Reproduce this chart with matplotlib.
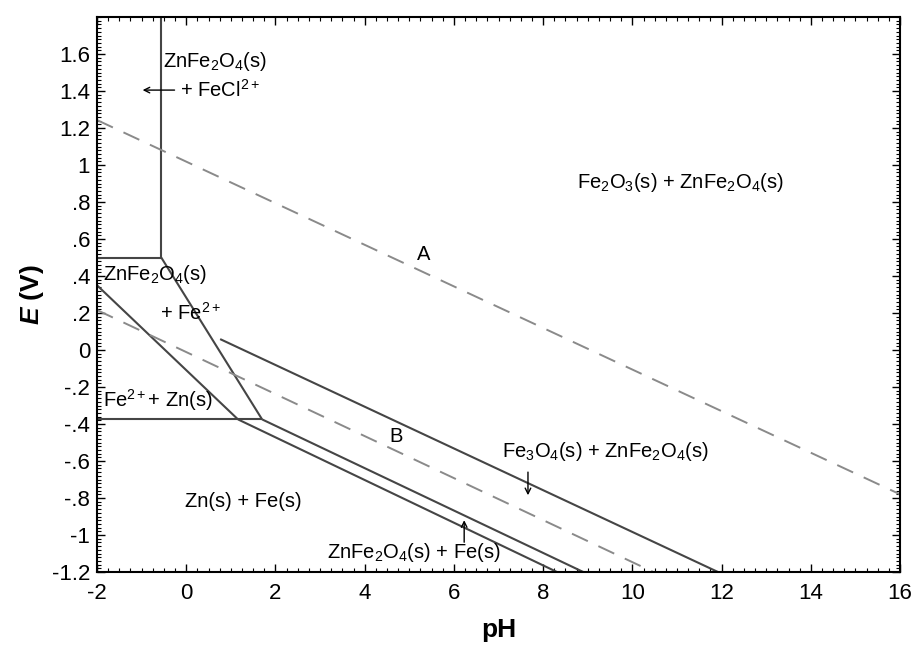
import matplotlib
matplotlib.use("Agg")
import matplotlib.pyplot as plt
from matplotlib.ticker import MultipleLocator, FuncFormatter

plt.rcParams['font.family'] = ['Liberation Sans', 'DejaVu Sans']
plt.rcParams['mathtext.fontset'] = 'custom'
plt.rcParams['mathtext.rm'] = 'Liberation Sans'
plt.rcParams['mathtext.it'] = 'Liberation Sans:italic'
plt.rcParams['mathtext.bf'] = 'Liberation Sans:italic:bold'
plt.rcParams['axes.unicode_minus'] = False

# Solid phase boundaries (pH, E)
vert_pH = [-0.56, -0.56]
vert_E = [1.8, 0.5]
top_horiz_pH = [-2.0, -0.56]
top_horiz_E = [0.5, 0.5]
diag_pH = [-0.56, 1.70]
diag_E = [0.5, -0.375]
low_horiz_pH = [-2.0, 1.70]
low_horiz_E = [-0.375, -0.375]
left_diag_pH = [-2.0, 1.16]
left_diag_E = [0.35, -0.375]
lower_pH = [1.16, 8.31]
lower_E = [-0.375, -1.2]
upper_pH = [1.70, 8.90]
upper_E = [-0.375, -1.2]
magnetite_pH = [0.76, 11.92]
magnetite_E = [0.059, -1.2]

# Water stability dashed lines
lineA_pH = [-2.0, 16.0]
lineA_E = [1.243, -0.78]
lineB_pH = [-2.0, 10.47]
lineB_E = [0.216, -1.2]

solid_lines = [
    (vert_pH, vert_E), (top_horiz_pH, top_horiz_E), (diag_pH, diag_E),
    (low_horiz_pH, low_horiz_E), (left_diag_pH, left_diag_E),
    (lower_pH, lower_E), (upper_pH, upper_E), (magnetite_pH, magnetite_E),
]
dashed_lines = [(lineA_pH, lineA_E), (lineB_pH, lineB_E)]

x_ticks = list(range(-2, 17, 2))
y_ticks = [t / 10 for t in range(-12, 17, 2)]

fig = plt.figure(figsize=(9.17, 6.47), dpi=100)
ax = fig.add_axes([0.1058, 0.1159, 0.8757, 0.8578])

for xs, ys in solid_lines:
    ax.plot(xs, ys, color='#454545', lw=1.5, solid_capstyle='butt')
for xs, ys in dashed_lines:
    ax.plot(xs, ys, color='#8a8a8a', lw=1.4, dashes=(9, 6))

ax.set_xlim(-2, 16)
ax.set_ylim(-1.2, 1.8)

ax.set_xticks(x_ticks)
ax.set_yticks(y_ticks)
ax.xaxis.set_minor_locator(MultipleLocator(0.25))
ax.yaxis.set_minor_locator(MultipleLocator(0.02))

def yfmt(v, pos):
    if abs(v) < 1e-9:
        return '0'
    s = ('%.1f' % v).rstrip('0').rstrip('.')
    s = s.replace('0.', '.')
    return s

def xfmt(v, pos):
    return '%d' % round(v)

ax.yaxis.set_major_formatter(FuncFormatter(yfmt))
ax.xaxis.set_major_formatter(FuncFormatter(xfmt))
ax.tick_params(which='both', direction='in', top=True, right=True)
ax.tick_params(which='major', length=6, width=1, labelsize=16)
ax.tick_params(axis='x', which='major', pad=8)
ax.tick_params(axis='y', which='major', pad=5)
ax.tick_params(which='minor', length=3, width=0.8)
for sp in ax.spines.values():
    sp.set_linewidth(1.5)

ax.set_xlabel('pH', fontsize=19, fontweight='bold', labelpad=10)
ax.set_ylabel(r'$\mathbf{E}$ (V)', fontsize=19, fontweight='bold', labelpad=4)

fs = 14.5
# Region labels
ax.text(-0.52, 1.557, r'ZnFe$_2$O$_4$(s)', fontsize=fs, ha='left', va='center')
ax.text(-0.15, 1.405, r'+ FeCl$^{2+}$', fontsize=fs, ha='left', va='center')
ax.annotate('', xy=(-1.04, 1.405), xytext=(-0.2, 1.405),
            arrowprops=dict(arrowstyle='->', color='black', lw=1))
ax.text(11.07, 0.903, r'Fe$_2$O$_3$(s) + ZnFe$_2$O$_4$(s)', fontsize=fs, ha='center', va='center')
ax.text(5.33, 0.514, 'A', fontsize=fs, ha='center', va='center')
ax.text(-1.87, 0.41, r'ZnFe$_2$O$_4$(s)', fontsize=fs, ha='left', va='center')
ax.text(-0.59, 0.20, r'+ Fe$^{2+}$', fontsize=fs, ha='left', va='center')
ax.text(-1.87, -0.27, r'Fe$^{2+}$+ Zn(s)', fontsize=fs, ha='left', va='center')
ax.text(4.70, -0.47, 'B', fontsize=fs, ha='center', va='center')
ax.text(9.39, -0.546, r'Fe$_3$O$_4$(s) + ZnFe$_2$O$_4$(s)', fontsize=fs, ha='center', va='center')
ax.annotate('', xy=(7.66, -0.80), xytext=(7.66, -0.645),
            arrowprops=dict(arrowstyle='->', color='black', lw=1))
ax.text(1.27, -0.82, 'Zn(s) + Fe(s)', fontsize=fs, ha='center', va='center')
ax.text(5.11, -1.097, r'ZnFe$_2$O$_4$(s) + Fe(s)', fontsize=fs, ha='center', va='center')
ax.annotate('', xy=(6.23, -0.905), xytext=(6.23, -1.054),
            arrowprops=dict(arrowstyle='->', color='black', lw=1))

fig.savefig('out.png', dpi=100)
